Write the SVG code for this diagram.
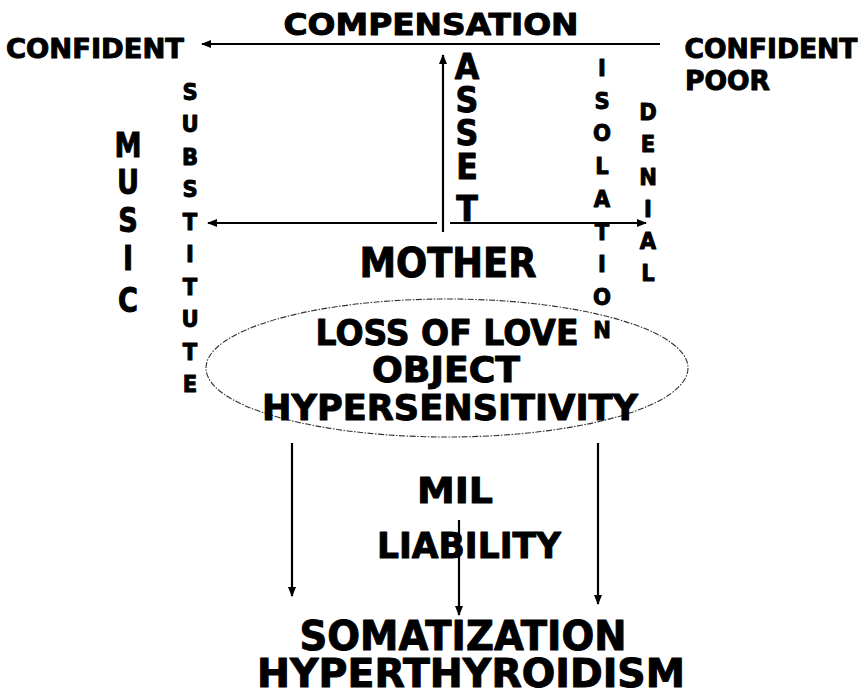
<svg xmlns="http://www.w3.org/2000/svg" width="865" height="696" viewBox="0 0 865 696">
<defs>
<style>
text{font-family:"DejaVu Sans","Liberation Sans",sans-serif;font-weight:bold;fill:#000;stroke:#000;stroke-width:1;stroke-linejoin:round;text-anchor:middle}
.ln{stroke:#000;stroke-width:2.2;fill:none}
.big{font-size:34px}
.col{font-size:23px}
.ast{font-size:36px}
</style>
<marker id="ah" viewBox="0 0 10 8" refX="9" refY="4" markerWidth="10" markerHeight="8" markerUnits="userSpaceOnUse" orient="auto">
<path d="M0,0 L10,4 L0,8 Z" fill="#000"/>
</marker>
</defs>
<rect width="865" height="696" fill="#fff"/>

<g id="connectors">
<line class="ln" x1="660" y1="44" x2="202" y2="44" marker-end="url(#ah)"/>
<line class="ln" x1="443" y1="232" x2="443" y2="55" marker-end="url(#ah)"/>
<line class="ln" x1="437" y1="223" x2="208" y2="223" marker-end="url(#ah)"/>
<line class="ln" x1="450" y1="223" x2="646" y2="223" marker-end="url(#ah)"/>
<line class="ln" x1="292" y1="443" x2="292" y2="596" marker-end="url(#ah)"/>
<line class="ln" x1="459" y1="520" x2="459" y2="615" marker-end="url(#ah)"/>
<line class="ln" x1="598" y1="443" x2="598" y2="604" marker-end="url(#ah)"/>
</g>

<g id="compensation"><text x="431" y="35" font-size="31" textLength="295" lengthAdjust="spacingAndGlyphs">COMPENSATION</text></g>
<g id="confident-left"><text x="95" y="58" font-size="27" textLength="178" lengthAdjust="spacingAndGlyphs">CONFIDENT</text></g>
<g id="confident-poor">
<text x="771" y="58" font-size="27" textLength="173" lengthAdjust="spacingAndGlyphs">CONFIDENT</text>
<text x="685" y="90" font-size="27" textLength="85" lengthAdjust="spacingAndGlyphs" style="text-anchor:start">POOR</text>
</g>

<g id="asset" transform="translate(467,0) scale(0.88,1)" class="ast">
<text x="0" y="79">A</text>
<text x="0" y="112">S</text>
<text x="0" y="145">S</text>
<text x="0" y="179">E</text>
<text x="0" y="221">T</text>
</g>

<g id="music" transform="translate(128,0) scale(0.8,1)" class="big">
<text x="0" y="157">M</text>
<text x="0" y="194">U</text>
<text x="0" y="232">S</text>
<text x="0" y="270">I</text>
<text x="0" y="312">C</text>
</g>

<g id="substitute" transform="translate(190,0) scale(0.92,1)" class="col">
<text x="0" y="100">S</text>
<text x="0" y="132.5">U</text>
<text x="0" y="165">B</text>
<text x="0" y="197.5">S</text>
<text x="0" y="230">T</text>
<text x="0" y="262.5">I</text>
<text x="0" y="295">T</text>
<text x="0" y="327.5">U</text>
<text x="0" y="360">T</text>
<text x="0" y="392.5">E</text>
</g>

<g id="isolation" transform="translate(602,0) scale(0.92,1)" class="col">
<text x="0" y="76">I</text>
<text x="0" y="108.75">S</text>
<text x="0" y="141.5">O</text>
<text x="0" y="174.25">L</text>
<text x="0" y="207">A</text>
<text x="0" y="239.75">T</text>
<text x="0" y="272.5">I</text>
<text x="0" y="305.25">O</text>
<text x="0" y="338">N</text>
</g>

<g id="denial" transform="translate(648,0) scale(0.92,1)" class="col">
<text x="0" y="120">D</text>
<text x="0" y="152.3">E</text>
<text x="0" y="184.6">N</text>
<text x="0" y="216.9">I</text>
<text x="0" y="249.2">A</text>
<text x="0" y="281.5">L</text>
</g>

<g id="mother"><text x="448" y="277" font-size="40" textLength="177" lengthAdjust="spacingAndGlyphs">MOTHER</text></g>

<g id="loss-ellipse">
<ellipse cx="447" cy="368" rx="241" ry="69" fill="none" stroke="#333" stroke-width="1.1" stroke-dasharray="6 1.5 1.5 1.5"/>
<text x="447" y="345" font-size="35" textLength="263" lengthAdjust="spacingAndGlyphs">LOSS OF LOVE</text>
<text x="446" y="382" font-size="35" textLength="148" lengthAdjust="spacingAndGlyphs">OBJECT</text>
<text x="450" y="420" font-size="35" textLength="376" lengthAdjust="spacingAndGlyphs">HYPERSENSITIVITY</text>
</g>

<g id="mil"><text x="455" y="503" font-size="36" textLength="76" lengthAdjust="spacingAndGlyphs">MIL</text></g>
<g id="liability"><text x="469" y="558" font-size="35" textLength="184" lengthAdjust="spacingAndGlyphs">LIABILITY</text></g>

<g id="somatization">
<text x="463" y="650" font-size="41" textLength="327" lengthAdjust="spacingAndGlyphs">SOMATIZATION</text>
<text x="471" y="687" font-size="39" textLength="428" lengthAdjust="spacingAndGlyphs">HYPERTHYROIDISM</text>
</g>
</svg>
